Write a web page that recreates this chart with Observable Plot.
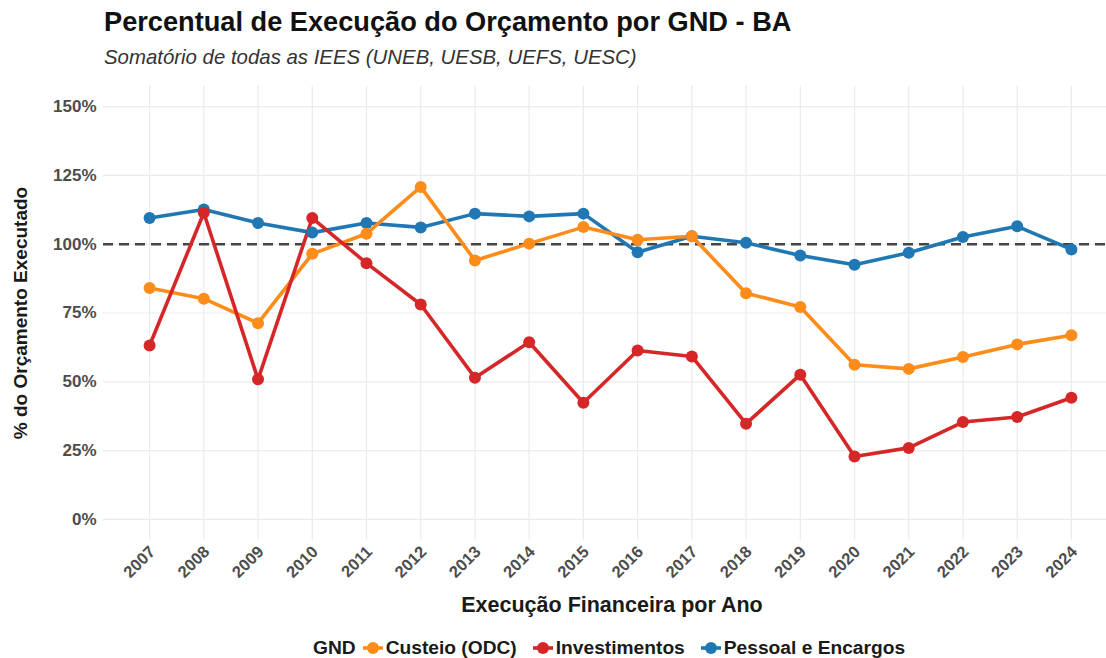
<!DOCTYPE html>
<html>
<head>
<meta charset="utf-8">
<script src="https://cdn.jsdelivr.net/npm/d3@7"></script>
<script src="https://cdn.jsdelivr.net/npm/@observablehq/plot@0.6"></script>
<style>
  html, body { margin: 0; padding: 0; background: #fff; }
  body { width: 1106px; height: 658px; position: relative; overflow: hidden;
         font-family: "Liberation Sans", Arial, sans-serif; color: #1a1a1a; }
  #title { position: absolute; left: 104px; top: 8px; font-size: 27.2px; line-height: 27px;
           font-weight: bold; white-space: nowrap; color: #111; }
  #subtitle { position: absolute; left: 104px; top: 47px; font-size: 20.4px; line-height: 20px;
              font-style: italic; white-space: nowrap; color: #333; }
  #chart { position: absolute; left: 0; top: 75px; }
  #legend { position: absolute; left: 313px; top: 638px; display: flex; align-items: center;
            font-size: 19.2px; line-height: 19px; font-weight: bold; white-space: nowrap; color: #1a1a1a; }
  #legend .item { display: flex; align-items: center; margin-left: 5px; }
  #legend .item svg { margin-right: 1px; }
  #legend .item + .item { margin-left: 14px; }
</style>
</head>
<body>
<div id="title"></div>
<div id="subtitle"></div>
<div id="chart"></div>
<div id="legend"></div>
<script>
const titleText = "Percentual de Execução do Orçamento por GND - BA";
const subtitleText = "Somatório de todas as IEES (UNEB, UESB, UEFS, UESC)";
const xLabel = "Execução Financeira por Ano";
const yLabel = "% do Orçamento Executado";
const legendTitle = "GND";

const years = [2007, 2008, 2009, 2010, 2011, 2012, 2013, 2014, 2015, 2016, 2017, 2018, 2019, 2020, 2021, 2022, 2023, 2024];
const yTicks = [0, 25, 50, 75, 100, 125, 150];

const categories = ["Custeio (ODC)", "Investimentos", "Pessoal e Encargos"];
const colors = ["#fd8c1a", "#d62728", "#1f77b4"];

const custeio = [84.1, 80.2, 71.3, 96.5, 103.8, 120.8, 94.1, 100.2, 106.2, 101.6, 102.9, 82.2, 77.2, 56.2, 54.7, 59.0, 63.6, 66.9];
const investimentos = [63.2, 111.4, 50.9, 109.5, 93.1, 78.1, 51.5, 64.4, 42.4, 61.4, 59.2, 34.8, 52.6, 22.9, 26.0, 35.4, 37.2, 44.2];
const pessoal = [109.5, 112.6, 107.7, 104.2, 107.7, 106.1, 111.1, 110.1, 111.1, 97.1, 102.9, 100.5, 95.9, 92.5, 96.9, 102.6, 106.5, 98.1];
const referenceLine = 100;

// drawing order (bottom to top): Pessoal, Custeio, Investimentos
const seriesOrder = [
  [categories[2], pessoal],
  [categories[0], custeio],
  [categories[1], investimentos]
];
const data = seriesOrder.flatMap(([gnd, vals]) => years.map((year, i) => ({year, value: vals[i], gnd})));

document.getElementById("title").textContent = titleText;
document.getElementById("subtitle").textContent = subtitleText;

const font = "'Liberation Sans', Arial, sans-serif";

const chart = Plot.plot({
  width: 1106,
  height: 553,
  marginLeft: 103,
  marginRight: 0,
  marginTop: 10.4,
  marginBottom: 88.4,
  style: { fontFamily: font, background: "transparent" },
  x: { type: "linear", domain: [2006.15, 2024.85], range: [103, 1117] },
  y: { domain: [-7.5, 157.5] },
  color: { domain: categories, range: colors },
  marks: [
    Plot.gridX(years, { stroke: "#ebebeb", strokeOpacity: 1, strokeWidth: 1.2 }),
    Plot.gridY(yTicks, { stroke: "#ebebeb", strokeOpacity: 1, strokeWidth: 1.2 }),
    Plot.ruleY([referenceLine], { stroke: "#444444", strokeWidth: 2.4, strokeDasharray: "10,6" }),
    Plot.line(data, { x: "year", y: "value", z: "gnd", stroke: "gnd", strokeWidth: 3.6 }),
    Plot.dot(data, { x: "year", y: "value", fill: "gnd", r: 6, stroke: "none" }),
    Plot.axisY({ ticks: yTicks, tickFormat: d => d + "%", tickSize: 0, tickPadding: 7,
                 fontSize: 17, fontWeight: "bold", fill: "#4d4d4d", label: null }),
    Plot.axisX({ ticks: years, tickFormat: d => String(d), tickRotate: -45, tickSize: 0, tickPadding: 9,
                 dx: 3, fontSize: 16.5, fontWeight: "bold", fill: "#4d4d4d", label: null }),
    Plot.text([yLabel], { text: d => d, frameAnchor: "left", textAnchor: "middle", rotate: -90, dx: -83,
                          fontSize: 19, fontWeight: "bold", fill: "#1a1a1a" }),
    Plot.text([xLabel], { text: d => d, frameAnchor: "bottom", textAnchor: "middle", dx: 7, dy: 72,
                          fontSize: 21.5, fontWeight: "bold", fill: "#1a1a1a" })
  ]
});
document.getElementById("chart").appendChild(chart);

// legend
const legend = document.getElementById("legend");
const lt = document.createElement("span");
lt.textContent = legendTitle;
legend.appendChild(lt);
categories.forEach((c, i) => {
  const item = document.createElement("span");
  item.className = "item";
  item.innerHTML = `<svg width="24" height="16" viewBox="0 0 24 16"><line x1="2" y1="8" x2="22" y2="8" stroke="${colors[i]}" stroke-width="3.6"/><circle cx="12" cy="8" r="6" fill="${colors[i]}"/></svg>`;
  const t = document.createElement("span");
  t.textContent = c;
  item.appendChild(t);
  legend.appendChild(item);
});
</script>
</body>
</html>
